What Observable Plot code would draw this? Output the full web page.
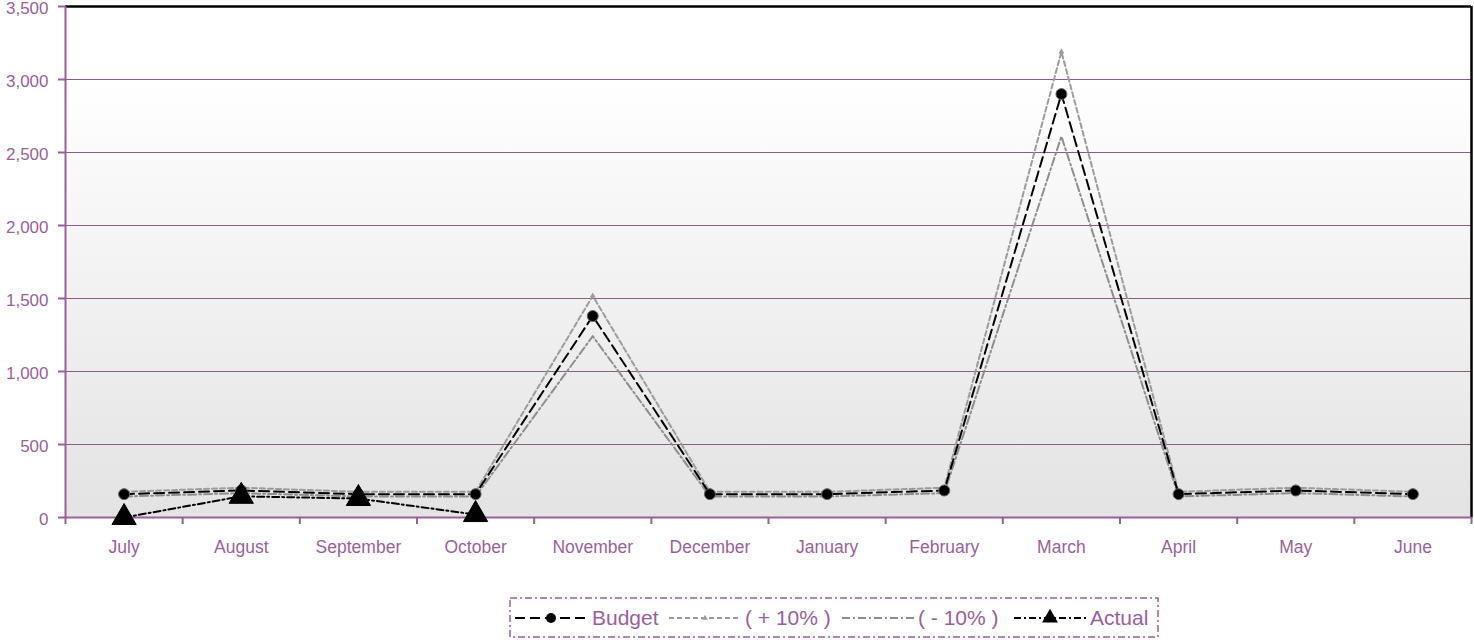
<!DOCTYPE html>
<html>
<head>
<meta charset="utf-8">
<script src="https://cdn.jsdelivr.net/npm/d3@7"></script>
<script src="https://cdn.jsdelivr.net/npm/@observablehq/plot@0.6"></script>
<style>
  body { margin: 0; background: #fff; font-family: "Liberation Sans", Arial, sans-serif; }
  #wrap { position: relative; width: 1474px; height: 640px; }
  #legend { position: absolute; left: 509px; top: 597px; }
</style>
</head>
<body>
<div id="wrap">
  <div id="chart"></div>
  <div id="legend"></div>
</div>
<script>
// Monthly budget vs. actual, with a ±10% tolerance band
const months = ["July", "August", "September", "October", "November", "December",
                "January", "February", "March", "April", "May", "June"];
const budget  = [160, 185, 160, 160, 1380, 160, 160, 185, 2900, 160, 185, 160];
const plus10  = [176, 204, 176, 176, 1518, 176, 176, 204, 3190, 176, 204, 176];
const minus10 = [144, 167, 144, 144, 1242, 144, 144, 167, 2610, 144, 167, 144];
const actual  = [0, 145, 130, 20]; // reported so far (July–October)
const yTicks  = [0, 500, 1000, 1500, 2000, 2500, 3000, 3500];

const purple = "#9b5f9b";
const seriesStyle = {
  budget:  { label: "Budget",    stroke: "#000",    dash: "10,5",    width: 2 },
  plus:    { label: "( + 10% )", stroke: "#9c9c9c", dash: "5,3",     width: 2 },
  minus:   { label: "( - 10% )", stroke: "#8e8e8e", dash: "8,3,2,3", width: 2 },
  actual:  { label: "Actual",    stroke: "#000",    dash: "7,3,2,3", width: 2 }
};

// Each month occupies one unit on x; points sit in the middle of their slot
const rows = vals => vals.map((v, i) => ({ x: i + 0.5, v, month: months[i] }));
const budgetRows = rows(budget);
const plusRows = rows(plus10);
const minusRows = rows(minus10);
const actualRows = rows(actual);

const lineOpts = s => ({
  x: "x", y: "v", stroke: s.stroke, strokeWidth: s.width,
  strokeDasharray: s.dash, strokeLinejoin: "round"
});

const chart = Plot.plot({
  width: 1474,
  height: 570,
  marginLeft: 65,
  marginRight: 3,
  marginTop: 6,
  marginBottom: 53,
  style: { fontFamily: "'Liberation Sans', Arial, sans-serif", background: "transparent" },
  x: { type: "linear", domain: [0, months.length], axis: null },
  y: { domain: [0, 3500], axis: null },
  marks: [
    Plot.frame({ fill: "url(#plotBg)", stroke: null }),
    Plot.ruleY(yTicks.filter(t => t > 0 && t < 3500), { stroke: "#8a5c8a", strokeWidth: 1 }),
    // black top and right edges of the plot area
    Plot.ruleY([3500], { stroke: "#000", strokeWidth: 2.5 }),
    Plot.ruleX([months.length], { stroke: "#000", strokeWidth: 2.5 }),
    // purple value and category axes
    Plot.ruleX([0], { stroke: purple, strokeWidth: 2 }),
    Plot.ruleY([0], { stroke: purple, strokeWidth: 2 }),
    Plot.axisY(yTicks, {
      label: null, tickSize: 7, tickFormat: () => "", stroke: purple, strokeWidth: 2
    }),
    Plot.axisY(yTicks, {
      label: null, tickSize: 0, tickPadding: 17, tickFormat: d3.format(","),
      fontSize: 17, fill: purple, dy: 2
    }),
    Plot.axisX(d3.range(months.length + 1), {
      label: null, tickSize: 7, tickFormat: () => "", stroke: purple, strokeWidth: 2
    }),
    Plot.axisX(budgetRows.map(d => d.x), {
      label: null, tickSize: 0, tickPadding: 23, fontSize: 17.5, fill: purple,
      tickFormat: x => months[Math.floor(x)]
    }),
    // tolerance band lines
    Plot.line(plusRows, lineOpts(seriesStyle.plus)),
    Plot.line(minusRows, lineOpts(seriesStyle.minus)),
    Plot.dot(plusRows, { x: "x", y: "v", symbol: "triangle", r: 2.2, fill: "#9c9c9c" }),
    // budget
    Plot.line(budgetRows, lineOpts(seriesStyle.budget)),
    Plot.dot(budgetRows, { x: "x", y: "v", r: 5.5, fill: "#000", stroke: "#666", strokeWidth: 1 }),
    // actuals
    Plot.line(actualRows, lineOpts(seriesStyle.actual)),
    Plot.dot(actualRows, { x: "x", y: "v", symbol: "triangle", r: 9, fill: "#000", stroke: "#000", strokeWidth: 1 })
  ]
});

// background gradient for the plot area: white at the top, light grey at the base
const defs = d3.select(chart).insert("defs", ":first-child");
const grad = defs.append("linearGradient")
  .attr("id", "plotBg").attr("x1", 0).attr("y1", 0).attr("x2", 0).attr("y2", 1);
grad.append("stop").attr("offset", "0%").attr("stop-color", "#ffffff");
grad.append("stop").attr("offset", "14%").attr("stop-color", "#ffffff");
grad.append("stop").attr("offset", "100%").attr("stop-color", "#e3e3e3");

document.getElementById("chart").append(chart);

// Legend
const lg = d3.select("#legend").append("svg")
  .attr("width", 652).attr("height", 44)
  .style("font-family", "'Liberation Sans', Arial, sans-serif");
lg.append("rect")
  .attr("x", 1).attr("y", 1).attr("width", 648).attr("height", 39)
  .attr("fill", "none").attr("stroke", purple).attr("stroke-width", 1.5)
  .attr("stroke-dasharray", "7,3,2,3");

const items = [
  { key: "budget", x0: 6,   textX: 83,  marker: "circle" },
  { key: "plus",   x0: 160, textX: 236, marker: "small" },
  { key: "minus",  x0: 333, textX: 409, marker: null },
  { key: "actual", x0: 505, textX: 581, marker: "triangle" }
];
const cy = 21;
for (const it of items) {
  const s = seriesStyle[it.key];
  lg.append("line")
    .attr("x1", it.x0).attr("x2", it.x0 + 72).attr("y1", cy).attr("y2", cy)
    .attr("stroke", s.stroke).attr("stroke-width", s.width).attr("stroke-dasharray", s.dash);
  const mx = it.x0 + 36;
  if (it.marker === "circle") {
    lg.append("circle").attr("cx", mx).attr("cy", cy).attr("r", 5).attr("fill", "#000");
  } else if (it.marker === "small") {
    lg.append("path").attr("transform", `translate(${mx},${cy})`)
      .attr("d", d3.symbol(d3.symbolTriangle, 14)()).attr("fill", "#9c9c9c");
  } else if (it.marker === "triangle") {
    lg.append("path").attr("transform", `translate(${mx},${cy})`)
      .attr("d", d3.symbol(d3.symbolTriangle, 110)()).attr("fill", "#000");
  }
  lg.append("text")
    .attr("x", it.textX).attr("y", cy).attr("dy", "0.35em")
    .attr("font-size", 21).attr("fill", purple)
    .text(s.label);
}
</script>
</body>
</html>
